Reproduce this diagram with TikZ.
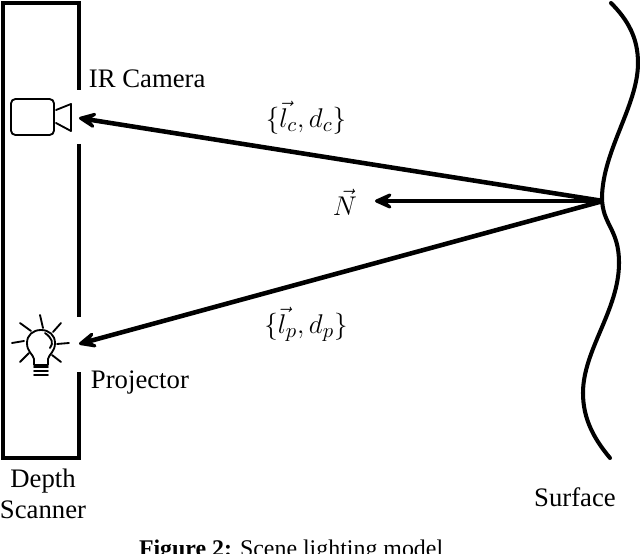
\documentclass[tikz,border=0pt]{standalone}
\usepackage{amsmath}
\usepackage{fontspec}
\setmainfont{Liberation Serif}
\usetikzlibrary{arrows.meta}

\begin{document}
\begin{tikzpicture}[x=0.02cm, y=-0.02cm, font=\fontsize{15.2}{18}\selectfont,
    wall/.style={line width=2.7pt, line cap=butt, miter limit=10},
    icon/.style={line width=1.05pt, line cap=round, line join=round},
    ray/.style={line width=2.6pt, >={Stealth[length=15pt, width=13.5pt, inset=8pt, round]}},
    lbl/.style={inner sep=0pt, outer sep=0pt},
    sym/.style={lbl, scale=1.07}]
    \useasboundingbox (0,0) rectangle (640,554);
    \clip (0,0) rectangle (640,554);

    \coordinate (S)  at (603,201);
    \coordinate (C)  at ( 79,118);
    \coordinate (P)  at ( 79,344);
    \coordinate (NT) at (375,201);

    \node[lbl, anchor=base west]  (IR)   at ( 89, 88)   {IR Camera};
    \node[lbl, anchor=base west]  (PR)   at ( 91,389)   {Projector};
    \node[lbl, anchor=base]       (DE)   at ( 43,487)   {Depth};
    \node[lbl, anchor=base]       (SC)   at ( 43,519)   {Scanner};
    \node[lbl, anchor=base]       (SU)   at (575,506)   {Surface};
    \node[sym]                    (LC)   at (306,118)   {$\{\vec{l}_c, d_c\}$};
    \node[sym]                    (LP)   at (306,324)   {$\{\vec{l}_p, d_p\}$};
    \node[sym]                    (N)    at (345,202)   {$\vec{N}$};
    \node[lbl, anchor=base west, font=\fontsize{13.6}{16}\selectfont]  (CAP)  at (139,557)
        {\textbf{Figure 2:} Scene lighting model};

    % scanner housing
    \draw[wall] (79,90) -- (79,3) -- (3,3) -- (3,458) -- (79,458) -- (79,372);
    \draw[wall] (79,144) -- (79,317);

    % camera
    \draw[icon, rounded corners=2.5pt] (11,99) -- (11,135) -- (54,135) -- (54,99) -- cycle;
    \draw[icon] (56,110) -- (71,104) -- (71,131) -- (56,123);

    % bulb
    \draw[icon] (34,365) -- (34,359) .. controls (33,354) and (27,352) .. (27,343)
        .. controls (27,335) and (33,330) .. (41,330)
        .. controls (49,330) and (55,335) .. (55,343)
        .. controls (55,352) and (49,354) .. (48,359) -- (48,365) -- cycle;
    \draw[icon] (45,333) .. controls (52,338) and (54,343) .. (50,348);
    \foreach \yy in {367,371,375}
        \draw[icon] (34,\yy) -- (48,\yy);
    \foreach \xa/\ya/\xb/\yb in {40/315/43/328, 53/332/61/323, 57/344/69/343, 52/355/61/362,
                                 20/362/29/353, 12/343/24/341, 20/323/31/331}
        \draw[icon] (\xa,\ya) -- (\xb,\yb);

    % surface
    \draw[line width=2.3pt, line cap=round] (611,3)
        .. controls (628,20) and (638,38) .. (638,63)
        .. controls (638,105) and (603,150) .. (602,197)
        .. controls (602,225) and (619,228) .. (619,263)
        .. controls (619,310) and (583,350) .. (583,393)
        .. controls (583,420) and (595,440) .. (610,458);

    \draw[ray, ->] (S) -- (C);
    \draw[ray, ->] (S) -- (NT);
    \draw[ray, ->] (S) -- (P);
\end{tikzpicture}
\end{document}
